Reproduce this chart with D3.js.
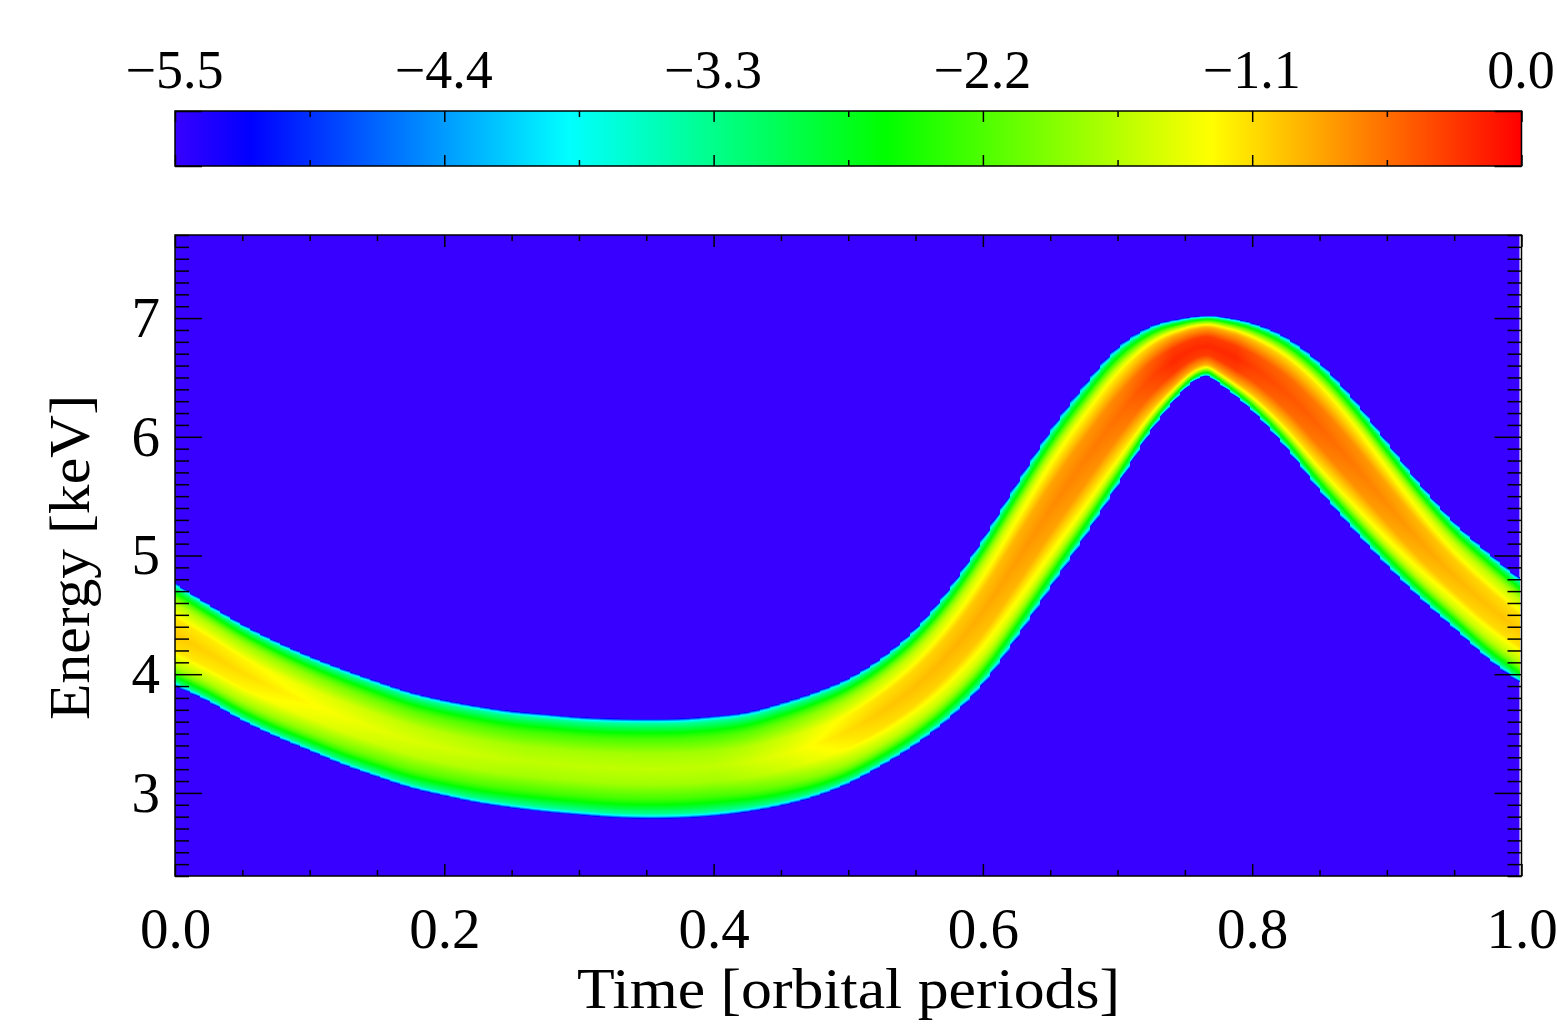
<!DOCTYPE html>
<html lang="en">
<head>
  <meta charset="UTF-8" />
  <title>Energy vs orbital time</title>
  <script src="https://d3js.org/d3.v7.min.js"></script>
  <style>
    html, body { margin: 0; padding: 0; background: #fff; overflow: hidden; }
    #chart { position: relative; width: 1557px; height: 1024px; }
    canvas, svg { position: absolute; left: 0; top: 0; }
    text { font-family: "Liberation Serif", serif; fill: #000; }
    .axis text { font-size: 57px; }
    .axis.bar text { font-size: 54px; }
    .axis path { display: none; }
    .axis line { stroke: #000; stroke-width: 1.5px; }
    .axis-label { font-size: 58px; }
  </style>
</head>
<body>

<div id="chart">
  <canvas id="heat" width="1557" height="1024"></canvas>
  <svg width="1557" height="1024"></svg>
</div>

<script>
  // Band: upper and lower edge of the emission, in keV
  const times = [0, 0.025, 0.05, 0.075, 0.1, 0.125, 0.15, 0.175, 0.2, 0.225, 0.25, 0.275, 0.3, 0.325, 0.35,
    0.375, 0.4, 0.425, 0.45, 0.475, 0.5, 0.525, 0.55, 0.575, 0.6, 0.625, 0.65, 0.675, 0.7, 0.725, 0.75,
    0.765, 0.775, 0.8, 0.825, 0.85, 0.875, 0.9, 0.925, 0.95, 0.975, 1];
  const upperEdge = [4.772, 4.595, 4.426, 4.283, 4.157, 4.047, 3.946, 3.853, 3.786, 3.735, 3.693, 3.668, 3.643, 3.630, 3.626,
    3.630, 3.651, 3.685, 3.761, 3.853, 3.971, 4.148, 4.393, 4.730, 5.151, 5.614, 6.061, 6.440, 6.760, 6.937, 7.004,
    7.021, 7.017, 6.962, 6.844, 6.633, 6.330, 5.968, 5.606, 5.286, 5.033, 4.797];
  const lowerEdge = [3.896, 3.761, 3.601, 3.466, 3.348, 3.230, 3.129, 3.036, 2.969, 2.910, 2.868, 2.834, 2.809, 2.788, 2.779,
    2.783, 2.800, 2.834, 2.885, 2.960, 3.070, 3.222, 3.398, 3.618, 3.904, 4.292, 4.713, 5.134, 5.580, 6.044, 6.398,
    6.507, 6.448, 6.212, 5.901, 5.538, 5.210, 4.906, 4.628, 4.376, 4.123, 3.912];

  // Log intensity along the middle of the band
  const peakTimes = [0, 0.05, 0.1, 0.15, 0.2, 0.3, 0.35, 0.4, 0.45, 0.475, 0.5, 0.525, 0.55, 0.6, 0.65, 0.7, 0.725, 0.75, 0.765, 0.8, 0.85, 0.9, 0.95, 1];
  const peakValues = [-1.0, -1.1, -1.25, -1.4, -1.5, -1.65, -1.65, -1.6, -1.4, -1.25, -1.1, -1.0, -0.95, -0.85, -0.7, -0.55, -0.35, -0.12, 0, -0.3, -0.5, -0.7, -0.9, -1.0];

  // Cross section of the band, centre (0) to edge (1), for a faint and a bright part
  const profilePos = [0, 0.3, 0.6, 0.7, 0.8, 0.9, 0.94, 0.98, 1];
  const profileFaint = [-1.6, -1.75, -2.25, -2.55, -2.95, -3.4, -3.9, -4.9, -5.5];
  const profileBright = [-0.2, -0.3, -0.85, -1.25, -2.0, -2.95, -3.7, -4.8, -5.5];

  // Colour bar
  const colorValues = [-5.5, -5.19, -3.89, -2.6, -1.27, 0];
  const colorStops = ["#3800ff", "#0000ff", "#00ffff", "#00ff00", "#ffff00", "#ff0000"];
  const barMajor = [-5.5, -4.4, -3.3, -2.2, -1.1, 0];
  const barMinor = [-4.95, -3.85, -2.75, -1.65, -0.55];

  const xMajor = [0, 0.2, 0.4, 0.6, 0.8, 1];
  const xMinor = d3.range(0, 21).map(i => i * 0.05).filter(d => !xMajor.some(m => Math.abs(m - d) < 1e-6));
  const yMajor = [3, 4, 5, 6, 7];
  const yMinor = d3.range(23, 78).map(i => i / 10).filter(d => !yMajor.includes(d));

  const plotLeft = 175, plotRight = 1521.5, plotTop = 235, plotBottom = 876, barTop = 111, barBottom = 166;

  const x = d3.scaleLinear().domain([0, 1]).range([plotLeft, plotRight]);
  const y = d3.scaleLinear().domain([2.3, 7.7]).range([plotBottom, plotTop]);
  const barX = d3.scaleLinear().domain([-5.5, 0]).range([plotLeft, plotRight]);
  const color = d3.scaleLinear().domain(colorValues).range(colorStops).clamp(true);
  const faint = d3.scaleLinear().domain(profilePos).range(profileFaint).clamp(true);
  const bright = d3.scaleLinear().domain(profilePos).range(profileBright).clamp(true);
  const mix = d3.scaleLinear().domain([-1.6, -0.2]).range([0, 1]).clamp(true);

  // Smooth curve through the read values
  function smooth(xs, ys, t) {
    const i = Math.max(0, Math.min(d3.bisectRight(xs, t) - 1, xs.length - 2));
    const i0 = Math.max(i - 1, 0), i2 = Math.min(i + 2, xs.length - 1);
    const h = xs[i + 1] - xs[i], s = (t - xs[i]) / h;
    const m0 = (ys[i + 1] - ys[i0]) / (xs[i + 1] - xs[i0]) * h;
    const m1 = (ys[i2] - ys[i]) / (xs[i2] - xs[i]) * h;
    return (2 * s * s * s - 3 * s * s + 1) * ys[i] + (s * s * s - 2 * s * s + s) * m0
      + (-2 * s * s * s + 3 * s * s) * ys[i + 1] + (s * s * s - s * s) * m1;
  }

  // Heat map, one pixel at a time
  const ctx = document.getElementById("heat").getContext("2d");
  const imageRight = plotRight - 2;
  ctx.fillStyle = colorStops[0];
  ctx.fillRect(plotLeft, plotTop, imageRight - plotLeft, plotBottom - plotTop);

  const binWidth = 10;
  for (let px = plotLeft; px < imageRight; px++) {
    const t = x.invert(px + 0.5);
    const up = smooth(times, upperEdge, t), lo = smooth(times, lowerEdge, t);
    const snapped = x.invert(plotLeft + Math.round((px - plotLeft) / binWidth) * binWidth);
    const upS = smooth(times, upperEdge, snapped), loS = smooth(times, lowerEdge, snapped);
    const w = mix(smooth(peakTimes, peakValues, t));
    for (let py = Math.floor(y(Math.max(up, upS))) - 2; py < y(Math.min(lo, loS)) + 2; py++) {
      const e = y.invert(py + 0.5);
      const u1 = Math.abs(e - (up + lo) / 2) / ((up - lo) / 2);
      const u2 = Math.abs(e - (upS + loS) / 2) / ((upS - loS) / 2);
      const b = Math.max(0, Math.min(1, (u1 - 0.85) / 0.15));
      const u = u1 + (u2 - u1) * b * 0.3;
      if (u >= 1) continue;
      const v = faint(u) + (bright(u) - faint(u)) * w;
      ctx.fillStyle = color(v);
      ctx.fillRect(px, py, 1, 1);
    }
  }

  const svg = d3.select("svg");

  // Colour bar
  const grad = svg.append("defs").append("linearGradient")
    .attr("id", "bar").attr("x1", "0%").attr("x2", "100%");
  colorValues.forEach((d, i) => {
    grad.append("stop")
      .attr("offset", (barX(d) - plotLeft) / (plotRight - plotLeft))
      .attr("stop-color", colorStops[i]);
  });
  svg.append("rect")
    .attr("x", plotLeft).attr("y", barTop)
    .attr("width", plotRight - plotLeft).attr("height", barBottom - barTop)
    .attr("fill", "url(#bar)");

  const fmt = d3.format(".1f");
  const barFmt = d => d === 0 ? "0.0" : fmt(d);

  function addAxis(axis, dx, dy) {
    return svg.append("g").attr("class", "axis")
      .attr("transform", `translate(${dx},${dy})`)
      .call(axis);
  }
  const noLabel = () => "";

  // Colour bar ticks
  addAxis(d3.axisTop(barX).tickValues(barMajor).tickSize(-11).tickPadding(23).tickFormat(barFmt), 0, barTop)
    .classed("bar", true)
    .selectAll("text").attr("dx", -1);
  addAxis(d3.axisTop(barX).tickValues(barMinor).tickSize(-6).tickFormat(noLabel), 0, barTop);
  addAxis(d3.axisBottom(barX).tickValues(barMajor).tickSize(-11).tickFormat(noLabel), 0, barBottom);
  addAxis(d3.axisBottom(barX).tickValues(barMinor).tickSize(-6).tickFormat(noLabel), 0, barBottom);
  const barY = d3.scaleLinear().domain([0, 1]).range([barBottom, barTop]);
  addAxis(d3.axisLeft(barY).tickValues([0, 1]).tickSize(-27).tickFormat(noLabel), plotLeft, 0);
  addAxis(d3.axisRight(barY).tickValues([0, 1]).tickSize(-27).tickFormat(noLabel), plotRight, 0);

  // Plot ticks on all four sides
  addAxis(d3.axisBottom(x).tickValues(xMajor).tickSize(-12).tickPadding(31.5).tickFormat(fmt), 0, plotBottom);
  addAxis(d3.axisBottom(x).tickValues(xMinor).tickSize(-6).tickFormat(noLabel), 0, plotBottom);
  addAxis(d3.axisTop(x).tickValues(xMajor).tickSize(-12).tickFormat(noLabel), 0, plotTop);
  addAxis(d3.axisTop(x).tickValues(xMinor).tickSize(-6).tickFormat(noLabel), 0, plotTop);
  addAxis(d3.axisLeft(y).tickValues(yMajor).tickSize(-27).tickPadding(15).tickFormat(d3.format("d")), plotLeft, 0);
  addAxis(d3.axisLeft(y).tickValues(yMinor).tickSize(-14).tickFormat(noLabel), plotLeft, 0);
  addAxis(d3.axisRight(y).tickValues(yMajor).tickSize(-27).tickFormat(noLabel), plotRight, 0);
  addAxis(d3.axisRight(y).tickValues(yMinor).tickSize(-14).tickFormat(noLabel), plotRight, 0);

  // Frames
  [[barTop, barBottom], [plotTop, plotBottom]].forEach(([a, b]) => {
    svg.append("rect")
      .attr("x", plotLeft).attr("y", a)
      .attr("width", plotRight - plotLeft).attr("height", b - a)
      .attr("fill", "none").attr("stroke", "#000").attr("stroke-width", 1.5);
  });

  // Labels axes
  svg.append("text")
    .attr("class", "axis-label")
    .attr("x", 848.5)
    .attr("y", 1008)
    .attr("text-anchor", "middle")
    .attr("textLength", 543)
    .attr("lengthAdjust", "spacingAndGlyphs")
    .text("Time [orbital periods]");

  svg.append("text")
    .attr("class", "axis-label")
    .attr("transform", "translate(89,557.5) rotate(-90)")
    .attr("text-anchor", "middle")
    .attr("textLength", 325)
    .attr("lengthAdjust", "spacingAndGlyphs")
    .text("Energy [keV]");
</script>

</body>
</html>
